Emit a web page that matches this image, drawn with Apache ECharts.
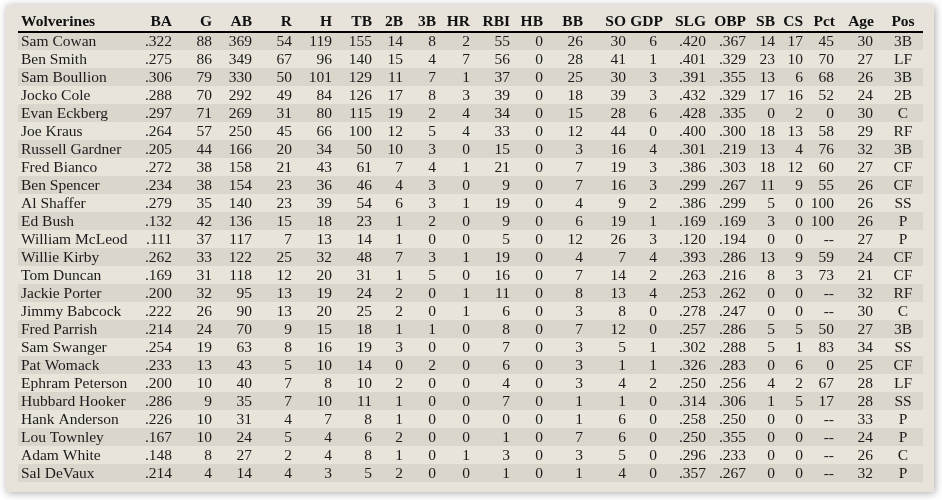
<!DOCTYPE html>
<html><head><meta charset="utf-8">
<script src="https://cdn.jsdelivr.net/npm/echarts@6/dist/echarts.min.js"></script>
<style>html,body{margin:0;padding:0;background:#fff}#c{width:942px;height:500px}</style>
</head><body><div id="c"></div>
<script>
const players=["Sam Cowan","Ben Smith","Sam Boullion","Jocko Cole","Evan Eckberg","Joe Kraus","Russell Gardner","Fred Bianco","Ben Spencer","Al Shaffer","Ed Bush","William McLeod","Willie Kirby","Tom Duncan","Jackie Porter","Jimmy Babcock","Fred Parrish","Sam Swanger","Pat Womack","Ephram Peterson","Hubbard Hooker","Hank Anderson","Lou Townley","Adam White","Sal DeVaux"];
const headers=["Wolverines","BA","G","AB","R","H","TB","2B","3B","HR","RBI","HB","BB","SO","GDP","SLG","OBP","SB","CS","Pct","Age","Pos"];
const BA=[".322",".275",".306",".288",".297",".264",".205",".272",".234",".279",".132",".111",".262",".169",".200",".222",".214",".254",".233",".200",".286",".226",".167",".148",".214"];
const G=[88,86,79,70,71,57,44,38,38,35,42,37,33,31,32,26,24,19,13,10,9,10,10,8,4];
const AB=[369,349,330,292,269,250,166,158,154,140,136,117,122,118,95,90,70,63,43,40,35,31,24,27,14];
const R=[54,67,50,49,31,45,20,21,23,23,15,7,25,12,13,13,9,8,5,7,7,4,5,2,4];
const H=[119,96,101,84,80,66,34,43,36,39,18,13,32,20,19,20,15,16,10,8,10,7,4,4,3];
const TB=[155,140,129,126,115,100,50,61,46,54,23,14,48,31,24,25,18,19,14,10,11,8,6,8,5];
const D2B=[14,15,11,17,19,12,10,7,4,6,1,1,7,1,2,2,1,3,0,2,1,1,2,1,2];
const D3B=[8,4,7,8,2,5,3,4,3,3,2,0,3,5,0,0,1,0,2,0,0,0,0,0,0];
const HR=[2,7,1,3,4,4,0,1,0,1,0,0,1,0,1,1,0,0,0,0,0,0,0,1,0];
const RBI=[55,56,37,39,34,33,15,21,9,19,9,5,19,16,11,6,8,7,6,4,7,0,1,3,1];
const HB=[0,0,0,0,0,0,0,0,0,0,0,0,0,0,0,0,0,0,0,0,0,0,0,0,0];
const BB=[26,28,25,18,15,12,3,7,7,4,6,12,4,7,8,3,7,3,3,3,1,1,7,3,1];
const SO=[30,41,30,39,28,44,16,19,16,9,19,26,7,14,13,8,12,5,1,4,1,6,6,5,4];
const GDP=[6,1,3,3,6,0,4,3,3,2,1,3,4,2,4,0,0,1,1,2,0,0,0,0,0];
const SLG=[".420",".401",".391",".432",".428",".400",".301",".386",".299",".386",".169",".120",".393",".263",".253",".278",".257",".302",".326",".250",".314",".258",".250",".296",".357"];
const OBP=[".367",".329",".355",".329",".335",".300",".219",".303",".267",".299",".169",".194",".286",".216",".262",".247",".286",".288",".283",".256",".306",".250",".355",".233",".267"];
const SB=[14,23,13,17,0,18,13,18,11,5,3,0,13,8,0,0,5,5,0,4,1,0,0,0,0];
const CS=[17,10,6,16,2,13,4,12,9,0,0,0,9,3,0,0,5,1,6,2,5,0,0,0,0];
const Pct=["45","70","68","52","0","58","76","60","55","100","100","--","59","73","--","--","50","83","0","67","17","--","--","--","--"];
const Age=[30,27,26,24,30,29,32,27,26,26,26,27,24,21,32,30,27,34,25,28,28,33,24,26,32];
const Pos=["3B","LF","3B","2B","C","RF","3B","CF","CF","SS","P","P","CF","CF","RF","C","3B","SS","CF","LF","SS","P","P","C","P"];
const columns=[players,BA,G,AB,R,H,TB,D2B,D3B,HR,RBI,HB,BB,SO,GDP,SLG,OBP,SB,CS,Pct,Age,Pos];
// layout: x anchor of each column (px within grid) and alignment
const colX=[3,154,194,234,274,314,354,385,418,452,492,525,565,608,639,688,728,757,785,816,855,885];
const headX=[3,154,194,234,274,314,354,385,418,452,492,525,565,608,645,688,728,757,785,817,856,885];
const colAlign=colX.map((_,i)=>i===0?'left':(i===21?'center':'right'));
const FONT='"Liberation Serif", "DejaVu Serif", serif';

const cells=[];
columns.forEach((col,c)=>col.forEach((v,r)=>cells.push([colX[c],r,String(v),c])));
const heads=headers.map((h,c)=>[headX[c],0,h,c]);

const chart=echarts.init(document.getElementById('c'));
chart.setOption({
  backgroundColor:'#fff',
  animation:false,
  graphic:[{type:'rect',z:-10,shape:{x:6,y:5,width:928,height:487},style:{fill:'#e7e3da',shadowBlur:8,shadowColor:'rgba(0,0,0,0.35)',shadowOffsetX:1,shadowOffsetY:1}}],
  grid:{left:18,right:19,top:32,bottom:18},
  xAxis:{type:'value',min:0,max:905,show:false},
  yAxis:{type:'category',data:players,inverse:true,axisLine:{show:false},axisTick:{show:false},axisLabel:{show:false},
    splitLine:{show:false},splitArea:{show:true,areaStyle:{color:['#dbd6cc','#e8e4da']}}},
  series:[
    {type:'custom',data:cells,encode:{x:0,y:1},renderItem:(p,api)=>{
      const pt=api.coord([api.value(0),api.value(1)]);
      const c=api.value(3);
      return {type:'text',x:pt[0],y:pt[1]+0.5,style:{text:cells[p.dataIndex][2],font:'15.5px '+FONT,fill:'#1b1b1b',align:colAlign[c],verticalAlign:'middle'}};
    }},
    {type:'custom',data:heads,encode:{x:0,y:1},renderItem:(p,api)=>{
      const pt=api.coord([api.value(0),api.value(1)]);
      const c=api.value(3);
      const children=[{type:'text',x:pt[0],y:pt[1]-19,style:{text:heads[p.dataIndex][2],font:'bold 15.5px '+FONT,fill:'#111',align:colAlign[c],verticalAlign:'middle'}}];
      if(c===0){
        const a=api.coord([0,0]),b=api.coord([905,0]);
        children.push({type:'line',shape:{x1:a[0],y1:a[1]-9,x2:b[0],y2:b[1]-9},style:{stroke:'#000',lineWidth:2}});
      }
      return {type:'group',children};
    }}
  ]
});
</script></body></html>
